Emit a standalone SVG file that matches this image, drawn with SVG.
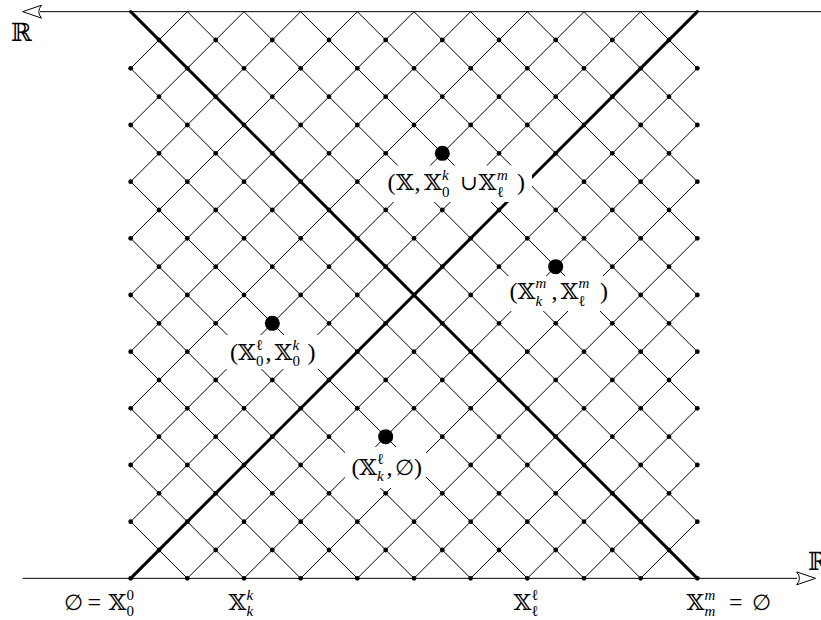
<svg xmlns="http://www.w3.org/2000/svg" xmlns:xlink="http://www.w3.org/1999/xlink" width="821" height="620" viewBox="0 0 821 620">
<style>
.thin{fill:none;stroke:#000;stroke-width:1}
.thick{fill:none;stroke:#000;stroke-width:3;stroke-linecap:round}
.axis{fill:none;stroke:#000;stroke-width:1}
.arr{fill:#fff;stroke:#000;stroke-width:1;stroke-linejoin:miter}
.sd{fill:#000}
.bd{fill:#000}
.bg{fill:#fff;stroke:none}
text{font-family:"Liberation Serif","DejaVu Serif",serif;font-size:24px;fill:#000}
.x{font-family:"DejaVu Serif","DejaVu Sans",serif;font-size:23px}
.o{font-family:"DejaVu Serif","Liberation Serif",serif;font-size:21px}
.e{font-size:22px}
.s{font-size:15px}
.i{font-style:italic}
.R{font-family:"DejaVu Serif","Liberation Serif",serif;font-size:25px}
</style>
<defs>
<g id="re">
<circle class="sd" cx="130.67" cy="0" r="2.4"/><circle class="sd" cx="187.33" cy="0" r="2.4"/><circle class="sd" cx="244" cy="0" r="2.4"/><circle class="sd" cx="300.67" cy="0" r="2.4"/><circle class="sd" cx="357.33" cy="0" r="2.4"/><circle class="sd" cx="414" cy="0" r="2.4"/><circle class="sd" cx="470.67" cy="0" r="2.4"/><circle class="sd" cx="527.33" cy="0" r="2.4"/><circle class="sd" cx="584" cy="0" r="2.4"/><circle class="sd" cx="640.67" cy="0" r="2.4"/><circle class="sd" cx="697.33" cy="0" r="2.4"/>
</g>
<g id="ro">
<circle class="sd" cx="159" cy="0" r="2.4"/><circle class="sd" cx="215.67" cy="0" r="2.4"/><circle class="sd" cx="272.33" cy="0" r="2.4"/><circle class="sd" cx="329" cy="0" r="2.4"/><circle class="sd" cx="385.67" cy="0" r="2.4"/><circle class="sd" cx="442.33" cy="0" r="2.4"/><circle class="sd" cx="499" cy="0" r="2.4"/><circle class="sd" cx="555.67" cy="0" r="2.4"/><circle class="sd" cx="612.33" cy="0" r="2.4"/><circle class="sd" cx="669" cy="0" r="2.4"/>
</g>
</defs>
<rect width="821" height="620" fill="#fff"/>
<g id="connectors">
<path class="thin" d="M187.33 578.33L697.33 68.33M244 578.33L697.33 125M300.67 578.33L697.33 181.67M357.33 578.33L697.33 238.33M414 578.33L697.33 295M470.67 578.33L697.33 351.67M527.33 578.33L697.33 408.33M584 578.33L697.33 465M640.67 578.33L697.33 521.67M130.67 521.67L640.67 11.67M130.67 465L584 11.67M130.67 408.33L527.33 11.67M130.67 351.67L470.67 11.67M130.67 295L414 11.67M130.67 238.33L357.33 11.67M130.67 181.67L300.67 11.67M130.67 125L244 11.67M130.67 68.33L187.33 11.67"/>
<path class="thin" d="M130.67 521.67L187.33 578.33M130.67 465L244 578.33M130.67 408.33L300.67 578.33M130.67 351.67L357.33 578.33M130.67 295L414 578.33M130.67 238.33L470.67 578.33M130.67 181.67L527.33 578.33M130.67 125L584 578.33M130.67 68.33L640.67 578.33M187.33 11.67L697.33 521.67M244 11.67L697.33 465M300.67 11.67L697.33 408.33M357.33 11.67L697.33 351.67M414 11.67L697.33 295M470.67 11.67L697.33 238.33M527.33 11.67L697.33 181.67M584 11.67L697.33 125M640.67 11.67L697.33 68.33"/>
<path class="thick" d="M130.67 578.33L697.33 11.67M130.67 11.67L697.33 578.33"/>
</g>
<g id="axes">
<path class="axis" d="M40 11.67H821"/>
<path class="arr" d="M22.7 11.67L41.5 5.2Q36 11.67 41.5 18.1Z"/>
<path class="axis" d="M22.7 578.33H797"/>
<path class="arr" d="M815.5 578.33L796.7 571.9Q802.2 578.33 796.7 584.8Z"/>
<text class="R" x="11" y="40.5">ℝ</text>
<text class="R" x="808" y="570">ℝ</text>
</g>
<g id="lattice">
<use xlink:href="#re" y="578.33"/><use xlink:href="#re" y="521.67"/><use xlink:href="#re" y="465"/><use xlink:href="#re" y="408.33"/><use xlink:href="#re" y="351.67"/><use xlink:href="#re" y="295"/><use xlink:href="#re" y="238.33"/><use xlink:href="#re" y="181.67"/><use xlink:href="#re" y="125"/><use xlink:href="#re" y="68.33"/>
<use xlink:href="#ro" y="550"/><use xlink:href="#ro" y="493.33"/><use xlink:href="#ro" y="436.67"/><use xlink:href="#ro" y="380"/><use xlink:href="#ro" y="323.33"/><use xlink:href="#ro" y="266.67"/><use xlink:href="#ro" y="210"/><use xlink:href="#ro" y="153.33"/><use xlink:href="#ro" y="96.67"/><use xlink:href="#ro" y="40"/>
</g>
<g id="node-X-union">
<circle class="bd" cx="442.33" cy="153.33" r="7.5"/>
<rect class="bg" x="381" y="165.5" width="151" height="36.5"/>
<text><tspan x="387.5" y="190">(</tspan><tspan class="x" x="396" y="190">𝕏</tspan><tspan x="414.5" y="190">,</tspan><tspan class="x" x="424" y="190">𝕏</tspan><tspan class="s i" x="442" y="180">k</tspan><tspan class="s" x="442" y="196.5">0</tspan><tspan class="o" x="460" y="190">∪</tspan><tspan class="x" x="478.5" y="190">𝕏</tspan><tspan class="s i" x="497" y="180">m</tspan><tspan class="s" x="497" y="196.5">ℓ</tspan><tspan x="517" y="190">)</tspan></text>
</g>
<g id="node-Xk-Xl">
<circle class="bd" cx="555.67" cy="266.67" r="7.5"/>
<rect class="bg" x="503" y="276" width="110" height="35"/>
<text><tspan x="509.5" y="298.5">(</tspan><tspan class="x" x="517.5" y="298.5">𝕏</tspan><tspan class="s i" x="535.5" y="288">m</tspan><tspan class="s i" x="535.5" y="305.5">k</tspan><tspan x="551.5" y="298.5">,</tspan><tspan class="x" x="560.5" y="298.5">𝕏</tspan><tspan class="s i" x="578.5" y="288">m</tspan><tspan class="s" x="578.5" y="305.5">ℓ</tspan><tspan x="600" y="298.5">)</tspan></text>
</g>
<g id="node-X0l-X0k">
<circle class="bd" cx="272.33" cy="323.33" r="7.5"/>
<rect class="bg" x="225" y="335" width="94" height="34"/>
<text><tspan x="230" y="360">(</tspan><tspan class="x" x="238" y="360">𝕏</tspan><tspan class="s" x="256" y="349.5">ℓ</tspan><tspan class="s" x="256" y="366">0</tspan><tspan x="265.5" y="360">,</tspan><tspan class="x" x="274.5" y="360">𝕏</tspan><tspan class="s i" x="292.5" y="350">k</tspan><tspan class="s" x="292.5" y="366">0</tspan><tspan x="307.5" y="360">)</tspan></text>
</g>
<g id="node-Xkl-empty">
<circle class="bd" cx="385.67" cy="436.67" r="7.5"/>
<rect class="bg" x="345" y="447" width="81" height="41"/>
<text><tspan x="351.5" y="474.5">(</tspan><tspan class="x" x="359" y="474.5">𝕏</tspan><tspan class="s" x="377" y="463.5">ℓ</tspan><tspan class="s i" x="377" y="480.5">k</tspan><tspan x="386.5" y="474.5">,</tspan><tspan class="e" x="395" y="474.5">∅</tspan><tspan x="414" y="474.5">)</tspan></text>
</g>
<g id="axis-labels">
<text><tspan class="e" x="64" y="610">∅</tspan><tspan x="87.5" y="610">=</tspan><tspan class="x" x="108.5" y="610">𝕏</tspan><tspan class="s" x="126.5" y="600">0</tspan><tspan class="s" x="126.5" y="616">0</tspan></text>
<text><tspan class="x" x="228.5" y="610">𝕏</tspan><tspan class="s i" x="246.5" y="600">k</tspan><tspan class="s i" x="246.5" y="616">k</tspan></text>
<text><tspan class="x" x="513.5" y="610">𝕏</tspan><tspan class="s" x="531.5" y="600">ℓ</tspan><tspan class="s" x="531.5" y="616">ℓ</tspan></text>
<text><tspan class="x" x="686.5" y="610">𝕏</tspan><tspan class="s i" x="704.5" y="600">m</tspan><tspan class="s i" x="704.5" y="616">m</tspan><tspan x="729" y="610">=</tspan><tspan class="e" x="752" y="610">∅</tspan></text>
</g>
</svg>
